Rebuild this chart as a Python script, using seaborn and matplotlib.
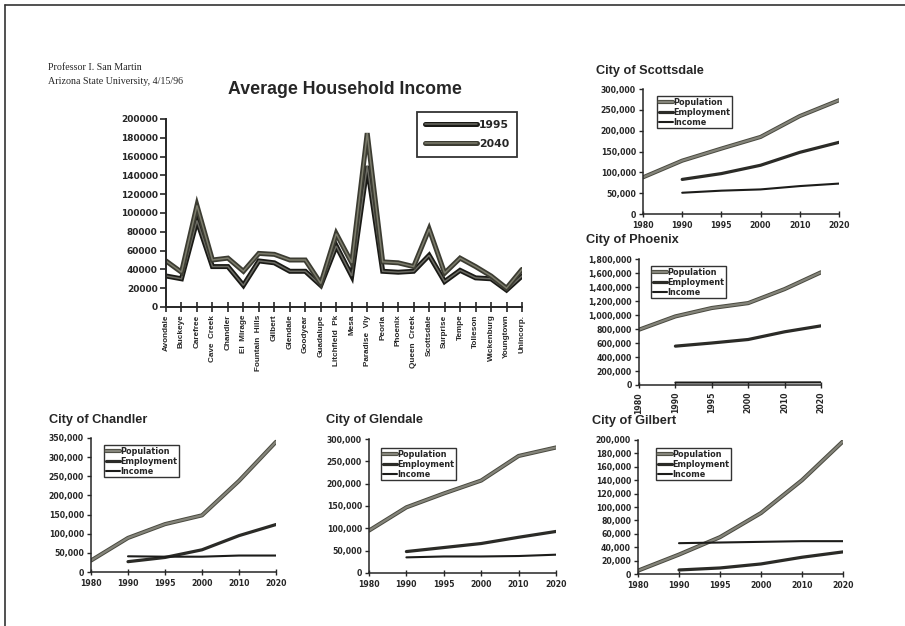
import matplotlib
matplotlib.use("Agg")
import matplotlib.pyplot as plt
import matplotlib.patheffects as pe
from matplotlib.lines import Line2D
from matplotlib.ticker import FuncFormatter
import seaborn as sns
import pandas as pd

# ---------------- data ----------------
cities = ["Avondale", "Buckeye", "Carefree", "Cave  Creek", "Chandler", "El  Mirage",
          "Fountain  Hills", "Gilbert", "Glendale", "Goodyear", "Guadalupe",
          "Litchfield  Pk", "Mesa", "Paradise  Vly", "Peoria", "Phoenix",
          "Queen  Creek", "Scottsdale", "Surprise", "Tempe", "Tolleson",
          "Wickenburg", "Youngtown", "Unincorp."]
income_1995 = [33000, 30000, 92000, 43000, 43000, 23000, 49000, 47000, 38000, 38000,
               23000, 65000, 33000, 150000, 38000, 37000, 38000, 55000, 27000, 39000,
               31000, 30000, 18000, 33000]
income_2040 = [49000, 37000, 108000, 50000, 52000, 38000, 57000, 56000, 50000, 50000,
               25000, 78000, 47000, 185000, 48000, 47000, 43000, 83000, 36000, 52000,
               43000, 33000, 20000, 40000]
main_ticks = [0, 20000, 40000, 60000, 80000, 100000, 120000, 140000, 160000, 180000, 200000]

years = ["1980", "1990", "1995", "2000", "2010", "2020"]
series_names = ["Population", "Employment", "Income"]

scottsdale_pop = [88000, 128000, 157000, 185000, 235000, 273000]
scottsdale_emp = [83000, 97000, 117000, 148000, 172000]
scottsdale_inc = [51000, 56000, 59000, 67000, 73000]

phoenix_pop = [790000, 980000, 1100000, 1170000, 1370000, 1610000]
phoenix_emp = [555000, 600000, 650000, 760000, 845000]
phoenix_inc = [35000, 35000, 36000, 37000, 38000]

chandler_pop = [30000, 89000, 125000, 148000, 238000, 340000]
chandler_emp = [27000, 38000, 58000, 95000, 124000]
chandler_inc = [41000, 40000, 40000, 43000, 43000]

glendale_pop = [95000, 147000, 178000, 207000, 262000, 281000]
glendale_emp = [48000, 57000, 66000, 80000, 93000]
glendale_inc = [35000, 37000, 37000, 38000, 41000]

gilbert_pop = [5000, 29000, 55000, 91000, 140000, 198000]
gilbert_emp = [6000, 9000, 15000, 25000, 33000]
gilbert_inc = [46000, 47000, 48000, 49000, 49000]

# ---------------- style ----------------
sns.set_style("ticks")
plt.rcParams["font.family"] = ["DejaVu Sans"]
plt.rcParams["axes.linewidth"] = 1.2

W, H = 905, 626
fig = plt.figure(figsize=(W / 100, H / 100), dpi=100)
fig.patch.set_facecolor("white")


def rect(l, t, r, b):
    return [l / W, 1 - b / H, (r - l) / W, (b - t) / H]


def fig_text(x, y, s, **kw):
    fig.text(x / W, 1 - y / H, s, **kw)


# page border (top & left edges of scanned page)
fig.add_artist(Line2D([5 / W, 1], [1 - 5 / H, 1 - 5 / H], transform=fig.transFigure,
                      color="#333333", lw=1.2))
fig.add_artist(Line2D([5 / W, 5 / W], [0, 1 - 5 / H], transform=fig.transFigure,
                      color="#333333", lw=1.2))

fig_text(48, 68, "Professor I. San Martin", family="Liberation Serif", fontsize=7.2,
         va="center", ha="left")
fig_text(48, 81, "Arizona State University, 4/15/96", family="Liberation Serif",
         fontsize=7.2, va="center", ha="left")

# ---------------- main chart ----------------
ax = fig.add_axes(rect(166, 119, 522, 307))
idx = list(range(len(cities)))
main_df = pd.DataFrame({
    "x": idx + idx,
    "value": income_1995 + income_2040,
    "year": ["1995"] * len(cities) + ["2040"] * len(cities),
})
sns.lineplot(data=main_df, x="x", y="value", hue="year", estimator=None, sort=False,
             palette={"1995": "#6a6a62", "2040": "#7c7c6c"}, linewidth=1.1, ax=ax,
             legend=False)
edge_cols = ["#1a1a16", "#3c3c32"]
for line, ec in zip(ax.lines, edge_cols):
    line.set_path_effects([pe.Stroke(linewidth=3.6, foreground=ec), pe.Normal()])
    line.set_solid_joinstyle("miter")

ax.set_xlim(0, len(cities) - 1)
ax.set_ylim(0, 200000)
ax.set_yticks(main_ticks)
ax.set_xticks(idx)
ax.tick_params(axis="x", direction="inout", length=7, width=1.2, pad=2)
ax.tick_params(axis="y", direction="out", length=4, width=1.2, pad=2)
ax.set_yticklabels([str(v) for v in main_ticks])
ax.set_xticklabels(cities, rotation=90)
for lab in ax.get_yticklabels():
    lab.set_fontsize(6.5)
    lab.set_fontweight("bold")
for lab in ax.get_xticklabels():
    lab.set_fontsize(5.9)
    lab.set_fontweight("bold")
    lab.set_family("Liberation Sans")
ax.set_xlabel("")
ax.set_ylabel("")
sns.despine(ax=ax)
for s in ("left", "bottom"):
    ax.spines[s].set_linewidth(1.4)
fig_text(345, 90, "Average Household Income", family="Liberation Sans",
         fontweight="bold", fontsize=12.8, ha="center", va="center")
leg = ax.legend(handles=ax.lines[:2], labels=["1995", "2040"], loc="upper left",
                bbox_to_anchor=(0.705, 1.035), frameon=True, fancybox=False,
                edgecolor="black", handlelength=4.8, handletextpad=0.25,
                labelspacing=0.85, borderpad=0.7, borderaxespad=0,
                prop={"size": 7.8, "weight": "bold"})
leg.get_frame().set_linewidth(1.3)
leg.get_frame().set_facecolor("white")
ax.set_facecolor("white")

# ---------------- city charts ----------------
pop_col, emp_col, inc_col = "#84847a", "#2b2b27", "#1c1c1a"


def city_chart(box, title, title_xy, pop, emp, inc, ymax, ystep, leg_anchor,
               rotate=False):
    l, t, r, b = box
    a = fig.add_axes(rect(l, t, r, b))
    ypos = {y: i for i, y in enumerate(years)}
    recs = []
    for y, v in zip(years, pop):
        recs.append((ypos[y], v, "Population"))
    for y, v in zip(years[1:], emp):
        recs.append((ypos[y], v, "Employment"))
    for y, v in zip(years[1:], inc):
        recs.append((ypos[y], v, "Income"))
    df = pd.DataFrame(recs, columns=["x", "value", "series"])
    sns.lineplot(data=df, x="x", y="value", hue="series", estimator=None, sort=False,
                 palette={"Population": pop_col, "Employment": emp_col, "Income": inc_col},
                 hue_order=series_names, ax=a, legend=False)
    lines = a.lines[:3]
    lines[0].set_linewidth(1.6)
    lines[0].set_path_effects([pe.Stroke(linewidth=3.0, foreground="#4a4a40"), pe.Normal()])
    lines[1].set_linewidth(2.3)
    lines[2].set_linewidth(1.5)
    a.set_xlim(0, len(years) - 1)
    a.set_ylim(0, ymax)
    ticks = list(range(0, ymax + 1, ystep))
    a.set_yticks(ticks)
    a.yaxis.set_major_formatter(FuncFormatter(lambda v, p: f"{int(v):,}"))
    a.set_xticks(range(len(years)))
    a.tick_params(axis="y", direction="out", length=3, width=1.0, pad=2)
    a.tick_params(axis="x", direction="inout", length=4, width=1.0, pad=3)
    a.set_xticklabels(years, rotation=90 if rotate else 0)
    for lab in a.get_yticklabels() + a.get_xticklabels():
        lab.set_fontsize(5.6)
        lab.set_fontweight("bold")
    a.set_xlabel("")
    a.set_ylabel("")
    sns.despine(ax=a)
    for s in ("left", "bottom"):
        a.spines[s].set_linewidth(1.1)
    fig_text(title_xy[0], title_xy[1], title, family="Liberation Sans",
             fontweight="bold", fontsize=9.2, ha="left", va="center")
    lg = a.legend(handles=lines, labels=series_names, loc="upper left",
                  bbox_to_anchor=leg_anchor, frameon=True, fancybox=False,
                  edgecolor="black", handlelength=1.8, handletextpad=0.0,
                  labelspacing=0.12, borderpad=0.2, borderaxespad=0,
                  prop={"size": 5.9, "weight": "bold"})
    lg.get_frame().set_linewidth(1.0)
    a.set_facecolor("white")
    return a


city_chart((643, 89, 839, 214), "City of Scottsdale", (596, 71), scottsdale_pop,
           scottsdale_emp, scottsdale_inc, 300000, 50000, (0.071, 0.944))
city_chart((639, 259, 821, 385), "City of Phoenix", (586, 240), phoenix_pop,
           phoenix_emp, phoenix_inc, 1800000, 200000, (0.066, 0.944), rotate=True)
city_chart((91, 438, 276, 572), "City of Chandler", (49, 420), chandler_pop,
           chandler_emp, chandler_inc, 350000, 50000, (0.07, 0.948))
city_chart((369, 439, 556, 573), "City of Glendale", (326, 420), glendale_pop,
           glendale_emp, glendale_inc, 300000, 50000, (0.064, 0.933))
city_chart((638, 440, 843, 574), "City of Gilbert", (592, 421), gilbert_pop,
           gilbert_emp, gilbert_inc, 200000, 20000, (0.088, 0.94))

fig.savefig("out.png", dpi=100, facecolor="white")
